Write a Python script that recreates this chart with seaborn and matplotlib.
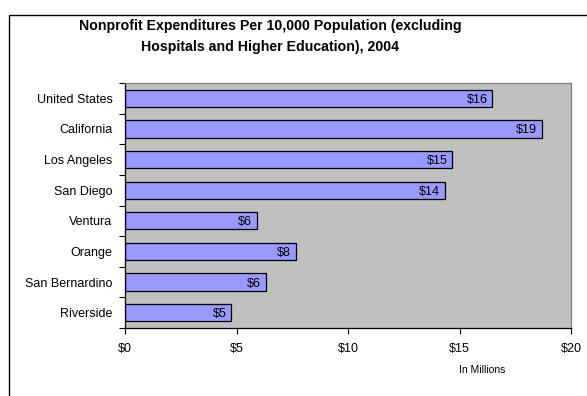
import matplotlib
matplotlib.use("Agg")
import matplotlib.pyplot as plt
import seaborn as sns
import pandas as pd
from matplotlib.patches import Rectangle
from matplotlib.ticker import FixedLocator

regions = ["United States", "California", "Los Angeles", "San Diego",
           "Ventura", "Orange", "San Bernardino", "Riverside"]
expenditures = [16.47, 18.71, 14.68, 14.33, 5.92, 7.67, 6.31, 4.77]
bar_labels = ["$16", "$19", "$15", "$14", "$6", "$8", "$6", "$5"]
x_ticks = [0, 5, 10, 15, 20]
x_tick_labels = ["$0", "$5", "$10", "$15", "$20"]

sns.set_theme(style="white")
plt.rcParams["font.family"] = ["Liberation Sans", "DejaVu Sans"]
plt.rcParams["text.color"] = "black"
plt.rcParams["xtick.color"] = "black"
plt.rcParams["ytick.color"] = "black"

df = pd.DataFrame({"region": regions, "value": expenditures})

fig = plt.figure(figsize=(5.87, 3.96), dpi=100)
fig.patch.set_facecolor("white")
# outer chart frame (cropped at right/bottom)
fig.add_artist(Rectangle((8.5 / 587, -0.05), 1.0, 1 - 14.5 / 396 + 0.05,
                         transform=fig.transFigure, fill=False,
                         edgecolor="black", linewidth=1.0))

ax = fig.add_axes([125 / 587, 1 - 328 / 396, (571 - 125) / 587, (328 - 83) / 396])
ax.set_facecolor("#C0C0C0")

sns.barplot(data=df, x="value", y="region", orient="h", ax=ax,
            color="#9999FF", saturation=1, edgecolor="black", linewidth=0.9,
            width=0.56)

for i, (v, lab) in enumerate(zip(expenditures, bar_labels)):
    ax.annotate(lab, xy=(v, i), xytext=(-3.5, 0), textcoords="offset points",
                ha="right", va="center_baseline", fontsize=9, color="black")

ax.set_xlim(0, 20)
ax.set_ylim(len(regions) - 0.5, -0.5)
ax.set_xticks(x_ticks)
ax.set_xticklabels(x_tick_labels, fontsize=9)
ax.set_xlabel("")
ax.set_ylabel("")
ax.tick_params(axis="y", which="major", length=0, labelsize=9, pad=9)
ax.yaxis.set_minor_locator(FixedLocator([i - 0.5 for i in range(len(regions) + 1)]))
ax.tick_params(axis="y", which="minor", length=4, width=0.8, color="black", direction="out", left=True)
ax.tick_params(axis="x", which="major", length=4, width=0.8, color="black", direction="out",
               bottom=True, pad=7)

for side in ["left", "bottom"]:
    ax.spines[side].set_color("black")
    ax.spines[side].set_linewidth(0.9)
for side in ["top", "right"]:
    ax.spines[side].set_color("#808080")
    ax.spines[side].set_linewidth(0.9)

fig.text(270 / 587, 1 - 26 / 396, "Nonprofit Expenditures Per 10,000 Population (excluding",
         ha="center", va="center", fontsize=10.2, fontweight="bold")
fig.text(270 / 587, 1 - 47 / 396, "Hospitals and Higher Education), 2004",
         ha="center", va="center", fontsize=10.2, fontweight="bold")
fig.text(482 / 587, 1 - 370 / 396, "In Millions", ha="center", va="center", fontsize=7.5)

fig.savefig("out.png", dpi=100)
